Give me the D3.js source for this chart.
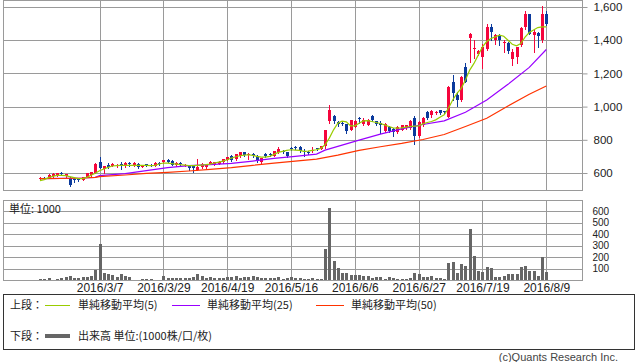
<!DOCTYPE html>
<html><head><meta charset="utf-8">
<script src="https://cdnjs.cloudflare.com/ajax/libs/d3/7.8.5/d3.min.js"></script>
<style>body{margin:0;background:#fff}svg{display:block}</style>
</head><body><svg id="c" width="638" height="362"></svg>
<script>
const dates = [
"2016/2/16","2016/2/17","2016/2/18","2016/2/19","2016/2/22","2016/2/23","2016/2/24","2016/2/25","2016/2/26","2016/2/29",
"2016/3/1","2016/3/2","2016/3/3","2016/3/4","2016/3/7","2016/3/8","2016/3/9","2016/3/10","2016/3/11","2016/3/14",
"2016/3/15","2016/3/16","2016/3/17","2016/3/18","2016/3/22","2016/3/23","2016/3/24","2016/3/25","2016/3/28","2016/3/29",
"2016/3/30","2016/3/31","2016/4/1","2016/4/4","2016/4/5","2016/4/6","2016/4/7","2016/4/8","2016/4/11","2016/4/12",
"2016/4/13","2016/4/14","2016/4/15","2016/4/18","2016/4/19","2016/4/20","2016/4/21","2016/4/22","2016/4/25","2016/4/26",
"2016/4/27","2016/4/28","2016/5/2","2016/5/6","2016/5/9","2016/5/10","2016/5/11","2016/5/12","2016/5/13","2016/5/16",
"2016/5/17","2016/5/18","2016/5/19","2016/5/20","2016/5/23","2016/5/24","2016/5/25","2016/5/26","2016/5/27","2016/5/30",
"2016/5/31","2016/6/1","2016/6/2","2016/6/3","2016/6/6","2016/6/7","2016/6/8","2016/6/9","2016/6/10","2016/6/13",
"2016/6/14","2016/6/15","2016/6/16","2016/6/17","2016/6/20","2016/6/21","2016/6/22","2016/6/23","2016/6/24","2016/6/27",
"2016/6/28","2016/6/29","2016/6/30","2016/7/1","2016/7/4","2016/7/5","2016/7/6","2016/7/7","2016/7/8","2016/7/11",
"2016/7/12","2016/7/13","2016/7/14","2016/7/15","2016/7/19","2016/7/20","2016/7/21","2016/7/22","2016/7/25","2016/7/26",
"2016/7/27","2016/7/28","2016/7/29","2016/8/1","2016/8/2","2016/8/3","2016/8/4","2016/8/5","2016/8/8","2016/8/9"];

const open = [562,572,572,582,586,602,582,570,562,568, 560,576,588,602,664,622,650,644,640,654,
642,660,650,656,638,652,648,644,660,668, 680,672,650,662,644,646,640,620,636,634,
656,650,656,664,680,704,684,702,724,708, 716,702,668,714,716,704,724,734,724,748,
758,758,730,726,734,748,746,760,912,946, 906,904,894,862,880,930,896,892,946,912,
900,852,880,864,848,862,872,872,934,822, 890,966,948,962,978,972,940,1150,1070,1040,
1240,1412,1346,1318,1300,1350,1480,1402,1424,1386, 1384,1286,1300,1372,1478,1556,1432,1442,1400,1556];
const high = [575,578,592,600,602,606,596,575,572,572, 578,602,608,658,694,645,660,662,655,666,
668,668,666,662,650,656,652,664,664,680, 684,676,668,666,654,650,645,686,658,652,
674,668,672,686,698,708,716,728,728,718, 720,708,692,718,720,734,756,740,728,756,
762,762,744,732,756,752,762,862,1010,950, 916,912,898,922,920,936,930,928,950,916,
912,900,884,870,884,892,892,918,942,915, 940,972,980,975,982,976,1125,1190,1090,1184,
1260,1446,1400,1340,1380,1500,1496,1440,1440,1400, 1390,1350,1362,1480,1576,1560,1470,1450,1604,1574];
const low = [560,562,568,578,582,594,578,524,548,554, 556,574,584,598,628,600,630,640,635,624,
638,640,645,632,634,640,640,642,648,660, 664,646,640,644,640,616,606,616,630,630,
652,646,652,660,676,670,680,698,700,684, 696,668,660,698,702,700,720,720,698,736,
744,726,704,716,728,738,742,752,900,900, 886,890,840,858,875,900,888,888,915,890,
840,846,846,820,840,858,868,866,776,818, 885,928,940,958,958,962,935,1040,1004,1035,
1146,1270,1290,1310,1230,1340,1400,1380,1370,1330, 1320,1250,1260,1365,1470,1435,1330,1362,1388,1490];
const close = [570,568,590,596,598,598,592,526,556,556, 574,600,606,656,632,640,638,656,648,646,
660,652,658,636,646,644,644,658,654,676, 666,650,662,652,650,630,632,636,656,648,
668,664,668,684,696,676,714,724,706,716, 700,674,688,702,706,730,744,724,702,744,
748,730,724,722,740,744,760,860,980,914, 898,900,856,918,915,924,918,922,920,896,
890,896,852,846,878,888,888,912,822,910, 934,932,972,968,962,968,1120,1082,1040,1180,
1150,1436,1352,1334,1360,1480,1448,1432,1402,1392, 1332,1330,1360,1476,1556,1440,1450,1428,1556,1498];
const volume = [9,9,14,3,12,17,29,35,14,14, 26,26,32,87,312,61,52,43,29,52,
32,29,3,2,6,6,6,3,2,35, 17,14,14,14,17,17,26,49,35,14,
23,20,14,20,29,23,35,20,23,29, 38,29,20,20,14,20,29,9,14,29,
14,14,9,6,17,9,9,268,630,165, 107,63,63,43,43,43,38,38,20,26,
26,9,26,20,12,12,12,20,58,52, 26,26,35,14,14,9,147,156,61,139,
121,442,208,78,72,115,107,29,29,38, 49,55,55,115,124,78,78,38,199,72];
const ma5 = [554,560,572,580,586,586,584,578,572,566, 566,574,586,598,614,624,634,642,645,646,
646,646,646,646,646,646,645,646,654,660, 660,656,654,650,648,644,644,646,648,650,
654,660,666,672,680,690,698,704,708,710, 706,700,696,696,700,712,724,730,736,740,
738,736,730,732,736,740,748,770,810,860, 900,912,908,884,884,900,914,916,910,904,
898,890,880,872,870,872,876,880,882,884, 896,904,910,920,936,950,990,1040,1080,1110,
1160,1220,1260,1310,1360,1392,1410,1420,1430,1424, 1400,1376,1366,1380,1418,1446,1462,1476,1480,1480];
const ma25Idx = [0,5,10,13,14,20,25,30,35,40,45,50,55,60,65,67,70,75,80,85,90,95,100,105,110,115,119];
const ma25 =    [566,568,570,574,584,596,614,632,645,650,658,672,688,700,714,738,760,798,834,866,892,914,966,1040,1134,1236,1344];
const ma50Idx = [0,5,10,13,14,20,25,30,35,40,45,50,55,60,65,70,75,80,85,90,95,100,105,110,115,119];
const ma50 =    [566,567,570,574,578,588,598,604,612,622,632,646,660,672,684,708,736,758,778,802,832,880,930,1004,1074,1124];

const priceTicks = [600,800,1000,1200,1400,1600];
const volTicks = [100,200,300,400,500,600];
const dateTicks = ["2016/3/7","2016/3/29","2016/4/19","2016/5/16","2016/6/6","2016/6/27","2016/7/19","2016/8/9"];

const C = {up:"#f5053c", down:"#0b3a9c", ma5:"#99cc00", ma25:"#9900ff", ma50:"#ff3300", grid:"#9a9a9a", vol:"#666666", text:"#222"};
const FONT = "'Liberation Sans','Noto Sans CJK JP',sans-serif";
const JFONT = "'Noto Sans CJK JP',sans-serif";

const svg = d3.select("#c");
const L = 3, R = 582;
const x = d3.scalePoint().domain(dates).range([40, 546.3]);
const y = d3.scaleLinear().domain([600,1600]).range([173,7]);
const yv = d3.scaleLinear().domain([0,600]).range([280,211]);
const p = v => Math.round(v) + 0.5;

// ---------- main panel ----------
const g = svg.append("g");
g.selectAll("line.hg").data(priceTicks).join("line")
  .attr("x1", L).attr("x2", R).attr("y1", d => p(y(d))).attr("y2", d => p(y(d)))
  .attr("stroke", C.grid);
g.selectAll("line.vg").data(dateTicks).join("line")
  .attr("x1", d => p(x(d))).attr("x2", d => p(x(d))).attr("y1", 1).attr("y2", 190)
  .attr("stroke", C.grid);
g.append("rect").attr("x", L+0.5).attr("y", 0.5).attr("width", R-L).attr("height", 190)
  .attr("fill","none").attr("stroke", C.grid);

const pa = g.append("g").attr("transform", `translate(${R+0.5},0)`)
  .call(d3.axisRight(y).tickValues(priceTicks).tickFormat(d3.format(",")).tickSize(5).tickPadding(6));
pa.select(".domain").remove();
pa.selectAll("line").attr("stroke", C.grid);
pa.selectAll("text").attr("fill", C.text).style("font", `11.5px ${FONT}`);

// candles
const idx = d3.range(dates.length);
const cg = g.append("g").attr("shape-rendering","crispEdges");
cg.selectAll("line").data(idx).join("line")
  .attr("x1", i => p(x(dates[i]))).attr("x2", i => p(x(dates[i])))
  .attr("y1", i => Math.round(y(high[i]))).attr("y2", i => Math.round(y(low[i]))+1)
  .attr("stroke", i => close[i] >= open[i] ? C.up : C.down);
cg.selectAll("rect").data(idx).join("rect")
  .attr("x", i => Math.round(x(dates[i])) - 1)
  .attr("width", 3)
  .attr("y", i => Math.round(y(Math.max(open[i], close[i]))))
  .attr("height", i => Math.max(1, Math.round(y(Math.min(open[i], close[i]))) - Math.round(y(Math.max(open[i], close[i])))))
  .attr("fill", i => close[i] >= open[i] ? C.up : C.down);

const line = d3.line().x(d => x(dates[d[0]])).y(d => y(d[1]));
g.append("path").datum(ma25Idx.map((d,k) => [d, ma25[k]])).attr("d", line)
  .attr("fill","none").attr("stroke", C.ma25).attr("stroke-width", 1.2);
g.append("path").datum(ma50Idx.map((d,k) => [d, ma50[k]])).attr("d", line)
  .attr("fill","none").attr("stroke", C.ma50).attr("stroke-width", 1.2);
g.append("path").datum(idx.map(i => [i, ma5[i]])).attr("d", line)
  .attr("fill","none").attr("stroke", C.ma5).attr("stroke-width", 1.2);

// ---------- volume panel ----------
const v = svg.append("g");
v.selectAll("line.hg").data(volTicks).join("line")
  .attr("x1", L).attr("x2", R).attr("y1", d => p(yv(d))).attr("y2", d => p(yv(d)))
  .attr("stroke", C.grid);
v.selectAll("line.vg").data(dateTicks).join("line")
  .attr("x1", d => p(x(d))).attr("x2", d => p(x(d))).attr("y1", 201).attr("y2", 280)
  .attr("stroke", C.grid);
v.append("rect").attr("x", L+0.5).attr("y", 200.5).attr("width", R-L).attr("height", 80)
  .attr("fill","none").attr("stroke", C.grid);
v.append("g").attr("shape-rendering","crispEdges").selectAll("rect").data(idx).join("rect")
  .attr("x", i => Math.round(x(dates[i])) - 1).attr("width", 3)
  .attr("y", i => Math.round(yv(volume[i]))).attr("height", i => 280 - Math.round(yv(volume[i])))
  .attr("fill", C.vol);

const va = v.append("g").attr("transform", `translate(${R+0.5},0)`)
  .call(d3.axisRight(yv).tickValues(volTicks).tickSize(0).tickPadding(10));
va.select(".domain").remove();
va.selectAll("text").attr("fill", C.text).style("font", `10px ${FONT}`);

v.append("text").attr("x", 9).attr("y", 213).attr("fill", C.text)
  .style("font", `11px ${JFONT}`).text("単位: 1000");

const da = svg.append("g").attr("transform", "translate(0,280)")
  .call(d3.axisBottom(x).tickValues(dateTicks).tickSize(0).tickPadding(3));
da.select(".domain").remove();
da.selectAll("text").attr("fill", C.text).style("font", `12px ${FONT}`);

// ---------- legend ----------
const lg = svg.append("g");
lg.append("rect").attr("x", 3.5).attr("y", 294.5).attr("width", 631).attr("height", 55)
  .attr("fill","none").attr("stroke","#333");
const row1 = 305, row2 = 336;
const legTxt = (xx, yy, t) => lg.append("text").attr("x", xx).attr("y", yy).attr("dy","0.35em")
  .attr("fill", C.text).style("font", `11px ${JFONT}`).text(t);
legTxt(10, row1, "上段：");
legTxt(10, row2, "下段：");
[[45,70,C.ma5,"単純移動平均(5)",78],[172,200,C.ma25,"単純移動平均(25)",207],[316,344,C.ma50,"単純移動平均(50)",351]]
  .forEach(([a,b,col,t,tx]) => {
    lg.append("line").attr("x1",a).attr("x2",b).attr("y1",row1+0.5).attr("y2",row1+0.5).attr("stroke",col);
    legTxt(tx, row1, t);
  });
lg.append("line").attr("x1",45).attr("x2",70).attr("y1",row2).attr("y2",row2).attr("stroke",C.vol).attr("stroke-width",4);
legTxt(78, row2, "出来高 単位:(1000株/口/枚)");

svg.append("text").attr("x", 618).attr("y", 357).attr("dy","0.35em").attr("text-anchor","end")
  .attr("fill","#444").style("font", `11px ${FONT}`).text("(c)Quants Research Inc.");
</script></body></html>
